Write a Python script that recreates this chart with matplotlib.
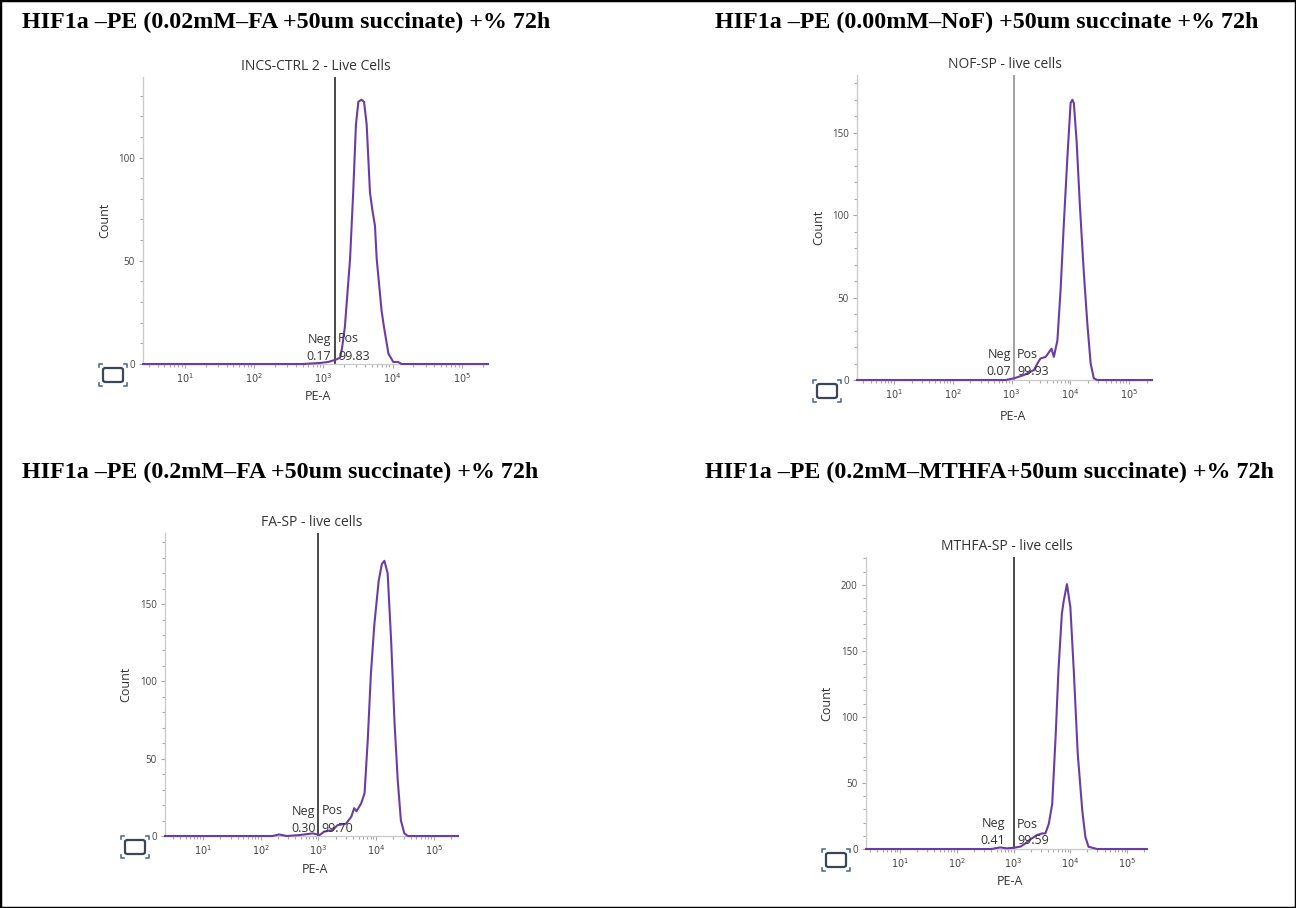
import matplotlib.pyplot as plt
from matplotlib.patches import Rectangle, FancyBboxPatch
from matplotlib.lines import Line2D
from matplotlib.ticker import LogLocator, MultipleLocator, FixedLocator, NullFormatter, FixedFormatter

plt.rcParams['font.family'] = ['Open Sans', 'DejaVu Sans']

W, H = 1296, 908

# PE-A intensity in decades (log10), histogram counts
ctrl_log_pe = [0.39, 2.7, 2.95, 3.07, 3.17, 3.24, 3.27, 3.31, 3.385, 3.43, 3.47, 3.505, 3.55,
               3.587, 3.625, 3.673, 3.71, 3.745, 3.77, 3.84, 3.875, 3.94, 4.01, 4.08, 4.13, 5.38]
ctrl_count = [0, 0, 0.5, 1, 2, 3, 8, 18, 51, 83, 116, 127, 128,
              127, 116, 83, 74, 67, 51, 26, 18, 5, 1, 1, 0, 0]

nof_log_pe = [0.37, 2.9, 3.04, 3.21, 3.38, 3.44, 3.49, 3.58, 3.68, 3.72, 3.78, 3.835, 3.89,
              3.95, 4.005, 4.035, 4.06, 4.107, 4.164, 4.23, 4.29, 4.346, 4.40, 4.46, 5.39]
nof_count = [0, 0, 1, 3, 6, 10, 13, 14, 19, 14, 24, 55, 95,
             135, 168, 170, 168, 145, 105, 65, 34, 10, 1, 0, 0]

fa_log_pe = [0.34, 2.2, 2.32, 2.45, 2.67, 2.9, 3.02, 3.1, 3.25, 3.33, 3.48, 3.57, 3.62, 3.66,
             3.74, 3.80, 3.855, 3.91, 3.97, 4.045, 4.1, 4.144, 4.2, 4.26, 4.32, 4.375, 4.43,
             4.49, 4.55, 5.42]
fa_count = [0, 0, 1, 0, 0.6, 1.7, 0.6, 2.8, 3.9, 7, 8, 12.5, 18, 16,
            21, 27.6, 62, 105, 137, 165, 176, 178, 170, 127, 73, 36, 10,
            1.7, 0, 0]

mthfa_log_pe = [0.40, 2.6, 2.765, 2.88, 3.01, 3.12, 3.21, 3.32, 3.41, 3.50, 3.56, 3.62, 3.68,
                3.74, 3.79, 3.85, 3.88, 3.94, 4.0, 4.06, 4.13, 4.21, 4.265, 4.32, 4.47, 5.35]
mthfa_count = [0, 0, 1.2, 0.5, 1, 1.8, 4.3, 8, 10.5, 11.8, 11.8, 19, 34,
               85, 135, 178, 187, 200.5, 183, 135, 72, 29, 9, 1.7, 0, 0]

main_titles = [
    'HIF1a \u2013PE (0.02mM\u2013FA +50um succinate) +% 72h',
    'HIF1a \u2013PE (0.00mM\u2013NoF) +50um succinate +% 72h',
    'HIF1a \u2013PE (0.2mM\u2013FA +50um succinate) +% 72h',
    'HIF1a \u2013PE (0.2mM\u2013MTHFA+50um succinate) +% 72h',
]
sample_titles = ['INCS-CTRL 2 - Live Cells', 'NOF-SP - live cells',
                 'FA-SP - live cells', 'MTHFA-SP - live cells']
gate_log_pe = [3.17, 3.04, 3.0, 3.01]
neg_pct = ['0.17', '0.07', '0.30', '0.41']
pos_pct = ['99.83', '99.93', '99.70', '99.59']
y_max = [139, 185, 196, 221]
y_major = [[0, 50, 100], [0, 50, 100, 150], [0, 50, 100, 150], [0, 50, 100, 150, 200]]
x_range = [(0.39, 5.38), (0.37, 5.39), (0.34, 5.42), (0.40, 5.35)]

series = [(ctrl_log_pe, ctrl_count), (nof_log_pe, nof_count),
          (fa_log_pe, fa_count), (mthfa_log_pe, mthfa_count)]

# pixel boxes (left, top, right, bottom) for each histogram
boxes = [(143, 77, 488, 364), (857, 75, 1152, 380), (165, 533, 458, 836), (866, 557, 1147, 849)]
title_pos = [(22, 22), (715, 22), (22, 472), (705, 472)]
count_lbl = [(-0.093, 0.5), (-0.108, 0.5), (-0.113, 0.5), (-0.117, 0.5)]
pea_lbl = [(0.507, -0.09), (0.529, -0.098), (0.512, -0.089), (0.512, -0.089)]
gate_color = ['#3a3a3a', '#9a9a9a', '#3a3a3a', '#3a3a3a']
neg_gap = [4, 3, 3, 9]

purple = '#6a3da6'
fig = plt.figure(figsize=(W / 100, H / 100), dpi=100)


def fig_xy(px, py):
    return px / W, 1 - py / H


def fit_icon(cx, cy):
    # small "zoom to fit" button drawn below the y axis
    x0, y0 = fig_xy(cx - 10, cy + 7)
    fig.add_artist(FancyBboxPatch((x0, y0), 20 / W, 14 / H, boxstyle='round,pad=0,rounding_size=0.002',
                                  transform=fig.transFigure, fill=False, ec='#3b4656', lw=1.6))
    for sx in (-1, 1):
        for sy in (-1, 1):
            ex, ey = cx + sx * 14, cy + sy * 11
            xs = [ex - sx * 3, ex, ex]
            ys = [ey, ey, ey - sy * 3]
            fx, fy = zip(*[fig_xy(a, b) for a, b in zip(xs, ys)])
            fig.add_artist(Line2D(fx, fy, transform=fig.transFigure, color='#4f6f9a', lw=1.2))


for i in range(4):
    left, top, right, bottom = boxes[i]
    ax = fig.add_axes([left / W, 1 - bottom / H, (right - left) / W, (bottom - top) / H])
    xs, ys = series[i]
    ax.plot([10 ** v for v in xs], ys, color=purple, lw=1.5, clip_on=False, zorder=3)

    ax.set_xscale('log')
    ax.set_xlim(10 ** x_range[i][0], 10 ** x_range[i][1])
    ax.set_ylim(0, y_max[i])

    ax.xaxis.set_major_locator(FixedLocator([10, 100, 1000, 10000, 100000]))
    ax.xaxis.set_major_formatter(FixedFormatter([r'$10^{%d}$' % k for k in range(1, 6)]))
    ax.xaxis.set_minor_locator(LogLocator(base=10, subs=range(2, 10), numticks=20))
    ax.xaxis.set_minor_formatter(NullFormatter())
    ax.yaxis.set_major_locator(FixedLocator(y_major[i]))
    ax.yaxis.set_minor_locator(MultipleLocator(10))

    ax.tick_params(axis='both', which='both', colors='#a8a8a8', labelcolor='#444444',
                   labelsize=7, width=0.8)
    ax.tick_params(axis='both', which='major', length=3, pad=3)
    ax.tick_params(axis='both', which='minor', length=2)
    for side in ('top', 'right'):
        ax.spines[side].set_visible(False)
    for side in ('left', 'bottom'):
        ax.spines[side].set_color('#cccccc')
        ax.spines[side].set_linewidth(1.0)

    gate = 10 ** gate_log_pe[i]
    ax.axvline(gate, color=gate_color[i], lw=1.3, zorder=2)

    ax.set_ylabel('Count', fontsize=9, color='#333333')
    ax.yaxis.set_label_coords(*count_lbl[i])
    ax.set_xlabel('PE-A', fontsize=9, color='#333333')
    ax.xaxis.set_label_coords(*pea_lbl[i])
    ax.text(0.5, 1 + 10 / (bottom - top), sample_titles[i], transform=ax.transAxes,
            ha='center', va='center', fontsize=10, color='#333333')

    txt = dict(textcoords='offset pixels', fontsize=9, color='#333333', va='center')
    ax.annotate('Neg', (gate, 0), xytext=(-neg_gap[i], 25), ha='right', **txt)
    ax.annotate('Pos', (gate, 0), xytext=(3, 25), ha='left', **txt)
    ax.annotate(neg_pct[i], (gate, 0), xytext=(-neg_gap[i], 8), ha='right', **txt)
    ax.annotate(pos_pct[i], (gate, 0), xytext=(3, 8), ha='left', **txt)

    fit_icon(left - 30, bottom + 11)

    tx, ty = fig_xy(*title_pos[i])
    fig.text(tx, ty, main_titles[i], family='Liberation Serif', fontweight='bold',
             fontsize=17.3, ha='left', va='center', color='black')

fig.add_artist(Rectangle((0, 0), 1, 1, transform=fig.transFigure, fill=False, ec='black', lw=2.5))

fig.savefig('out.png', dpi=100, facecolor='white')
